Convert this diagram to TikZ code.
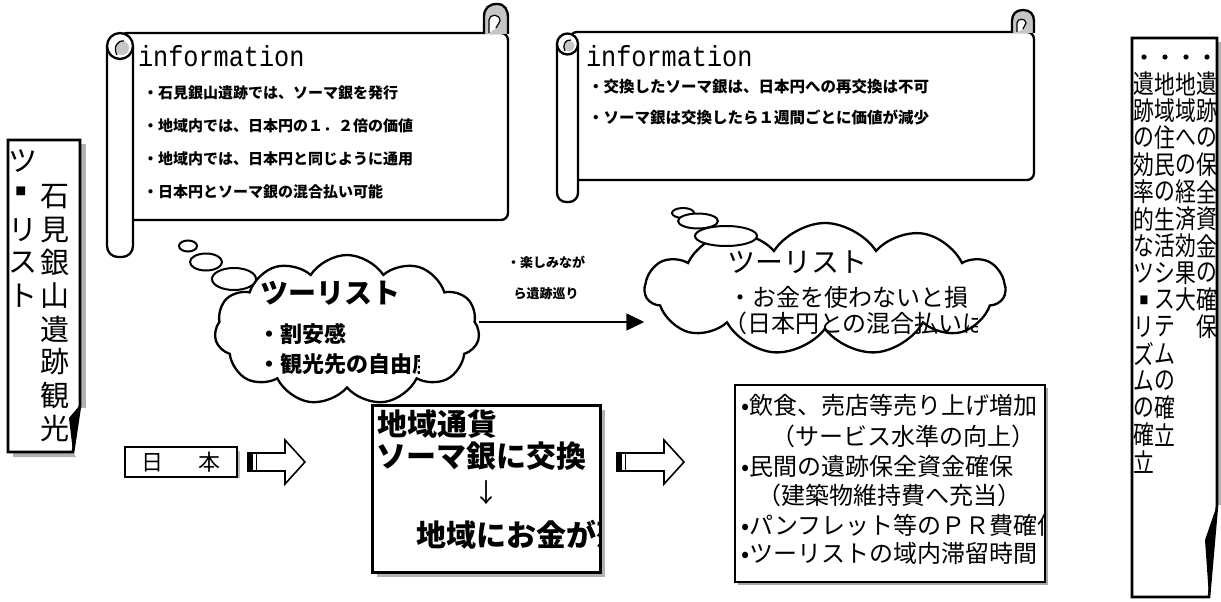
\documentclass[tikz,border=0pt]{standalone}
\usepackage{fontspec}
\usepackage{graphicx}
\newfontfamily\jp{Noto Sans CJK JP}
\newfontfamily\monofnt{Liberation Mono}
\usetikzlibrary{shapes.symbols,arrows.meta,calc}
\newcommand\fsz[1]{\fontsize{#1}{#1}\selectfont}
\newcommand\blockarrowat[3]{%
  \draw[blockarrow] (#1,#2-9) -- (#1+#3-20,#2-9) -- (#1+#3-20,#2-22) -- (#1+#3,#2) -- (#1+#3-20,#2+22) -- (#1+#3-20,#2+9) -- (#1,#2+9) -- cycle;
  \fill (#1,#2-9) rectangle (#1+5,#2+9);
  \draw[line width=1pt] (#1+8,#2-9) -- (#1+8,#2+9);}
\newcommand\narrowch[1]{\scalebox{0.8}[1]{#1}}
\begin{document}
\begin{tikzpicture}[x=1pt,y=-1pt,
  every node/.style={inner sep=0pt,outer sep=0pt},
  heavy/.style={line width=2.3pt},
  rollfill/.style={fill=gray!45},
  shade/.style={fill=gray!60},
  gb/.style={font=\jp\bfseries\fsz{#1},anchor=west},
  gr/.style={font=\jp\fsz{#1},anchor=west},
  vch/.style={font=\jp\fsz{#1}},
  info/.style={font=\monofnt\fsz{29},anchor=west},
  bub/.style={line width=2pt,fill=white},
  thought/.style={cloud,cloud puffs=11,cloud puff arc=115,cloud ignores aspect,draw,line width=2.3pt,fill=white},
  blockarrow/.style={line width=1.6pt,fill=white}]
\useasboundingbox (0,0) rectangle (1221,602);
\fill[white] (0,0) rectangle (1221,602);

% ---------- top-left scroll ----------
\draw[heavy,fill=white,rounded corners=7] (120,33) rectangle (508,220);
\draw[heavy,rollfill] (484,34) -- (484,17) .. controls (484,8) and (489,4) .. (497,4) .. controls (505,4) and (508,10) .. (508,18) -- (508,34);
\draw[line width=1.2pt,fill=white] (489,33) -- (489,20) .. controls (489,14) and (500,13) .. (500,21) -- (496,28);
\draw[heavy,fill=white,rounded corners=11] (107,46) -- (107,257) -- (133,257) -- (133,46);
\draw[heavy,fill=white] (120,46) circle[radius=13];
\fill[rollfill] (122,48) circle[radius=7];
\draw[line width=1.2pt] (117,55) .. controls (113,48) and (117,40) .. (124,41);
\node[info] (infoL) at (138,56) {\scalebox{0.87}[1]{information}};
\node[gb=15] (bl1) at (143,93) {・石見銀山遺跡では、ソーマ銀を発行};
\node[gb=15] (bl2) at (143,126) {・地域内では、日本円の１．２倍の価値};
\node[gb=15] (bl3) at (143,159) {・地域内では、日本円と同じように通用};
\node[gb=15] (bl4) at (143,192) {・日本円とソーマ銀の混合払い可能};

% ---------- top-right scroll ----------
\draw[heavy,fill=white,rounded corners=7] (570,32) rectangle (1034,180);
\draw[heavy,rollfill] (1012,33) -- (1012,21) .. controls (1012,14) and (1016,10) .. (1023,10) .. controls (1030,10) and (1034,14) .. (1034,21) -- (1034,33);
\draw[line width=1.2pt,fill=white] (1017,32) -- (1017,23) .. controls (1017,18) and (1026,18) .. (1026,23) -- (1023,29);
\draw[heavy,fill=white,rounded corners=9] (557,44) -- (557,202) -- (578,202) -- (578,44);
\draw[heavy,fill=white] (567.5,44) circle[radius=10.5];
\fill[rollfill] (569,46) circle[radius=5.5];
\draw[line width=1.2pt] (565,51) .. controls (562,46) and (565,39) .. (571,40);
\node[info] (infoR) at (586,56) {\scalebox{0.87}[1]{information}};
\node[gb=15.5] (br1) at (588,87) {・交換したソーマ銀は、日本円への再交換は不可};
\node[gb=15.5] (br2) at (588,117) {・ソーマ銀は交換したら１週間ごとに価値が減少};

% ---------- left vertical box ----------
\fill[shade] (80,144) rectangle (86,408);
\fill[shade] (13,452) -- (73,452) -- (76,457) -- (13,457) -- cycle;
\draw[line width=2.8pt,fill=white] (8,140) -- (80,140) -- (80,405) -- (73,452) -- (8,452) -- cycle;
\fill (80,405) -- (73,452) -- (69,418) -- cycle;
\foreach \ch [count=\i from 0] in {石,見,銀,山,遺,跡,観,光}
  \node[vch=29] (lbr\i) at (55,197+33*\i) {\ch};
\node[vch=29] (lbl0) at (23,161) {ツ};
\node[vch=11] (lbl1) at (21,191) {■};
\node[vch=29] (lbl2) at (23,230) {リ};
\node[vch=29] (lbl3) at (23,263) {ス};
\node[vch=29] (lbl4) at (23,296) {ト};

% ---------- right vertical box ----------
\fill[shade] (1217,42) rectangle (1221,505);
\draw[line width=2.6pt,fill=white] (1132,38) -- (1217,38) -- (1217,505) -- (1209,597) -- (1132,597) -- cycle;
\fill (1217,505) -- (1209,597) -- (1205,540) -- cycle;
\foreach \cx in {1144,1165,1186,1207} \fill (\cx,57) circle[radius=2.6];
\foreach \ch [count=\i from 0] in {遺,跡,の,保,全,資,金,の,確,保}
  \node[vch=26] (rc1\i) at (1207,84+27*\i) {\narrowch{\ch}};
\foreach \ch [count=\i from 0] in {地,域,へ,の,経,済,効,果,大}
  \node[vch=26] (rc2\i) at (1186,84+27*\i) {\narrowch{\ch}};
\foreach \ch [count=\i from 0] in {地,域,住,民,の,生,活,シ,ス,テ,ム,の,確,立}
  \node[vch=26] (rc3\i) at (1165,84+27*\i) {\narrowch{\ch}};
\foreach \ch [count=\i from 0] in {遺,跡,の,効,率,的,な,ツ,{\fsz{11}■},リ,ズ,ム,の,確,立}
  \node[vch=26] (rc4\i) at (1144,84+27*\i) {\narrowch{\ch}};

% ---------- clouds ----------
\node[thought,minimum width=265pt,minimum height=150pt] (lc) at (347,330) {};
\draw[bub] (188,246) ellipse[x radius=9,y radius=5.5];
\draw[bub] (206,262) ellipse[x radius=16,y radius=8.5];
\draw[bub] (234,279) ellipse[x radius=22,y radius=11];
\node[gb=28,anchor=center] (lct) at (330,293) {ツーリスト};
\node[gb=22] (lc1) at (258,334) {・割安感};
\begin{scope}
  \clip (250,340) rectangle (419,390);
  \node[gb=22] (lc2) at (258,364) {・観光先の自由度};
\end{scope}

\node[thought,minimum width=360pt,minimum height=132pt] (rc) at (825,289) {};
\draw[bub] (683,213) ellipse[x radius=11,y radius=5];
\draw[bub] (698,221) ellipse[x radius=20,y radius=7.5];
\draw[bub] (726,236) ellipse[x radius=31,y radius=10];
\node[gr=28,anchor=center] (rct) at (797,262) {ツーリスト};
\node[gr=24] (rc1) at (728,297) {・お金を使わないと損};
\begin{scope}
  \clip (715,305) rectangle (977,345);
  \node[gr=24] (rc2) at (723,323) {（日本円との混合払いは};
\end{scope}

\draw[line width=1.6pt,-{Triangle[length=18pt,width=17pt]}] ([yshift=8pt]lc.east) -- ([yshift=8pt]lc.east -| rc.west);
\node[gb=13,anchor=center] (lab1) at (546,262) {・楽しみなが};
\node[gb=13,anchor=center] (lab2) at (546,294) {ら遺跡巡り};

% ---------- bottom row ----------
\fill[gray!55] (128,451) rectangle (240,478);
\node[draw,line width=1.8pt,fill=white,minimum width=112pt,minimum height=30pt,font=\jp\fsz{22}] (nihon) at (181,462) {日\hspace{36pt}本};
\blockarrowat{248}{462}{57}

\fill[shade] (377,410) rectangle (605,577);
\node[draw,line width=3pt,fill=white,minimum width=228pt,minimum height=167pt] (mid) at (486,488.5) {};
\node[gb=30] (m1) at (377,424) {地域通貨};
\node[gb=30] (m2) at (376,456) {ソーマ銀に交換};
\node[font=\jp\fsz{26}] (m3) at (486,493) {↓};
\begin{scope}
  \clip (372,505) rectangle (598,565);
  \node[gb=30] (m4) at (416,535) {地域にお金が落};
\end{scope}

\blockarrowat{617}{462}{67}

\fill[gray!70] (738,388) rectangle (1048,585);
\node[draw,line width=1.6pt,fill=white,minimum width=310pt,minimum height=197pt] (lst) at (890,483.5) {};
\begin{scope}
  \clip (736,386) rectangle (1043,581);
  \node[gr=24] (r1) at (741,405) {•飲食、売店等売り上げ増加};
  \node[gr=24] (r2) at (771,436) {（サービス水準の向上）};
  \node[gr=24] (r3) at (741,466) {•民間の遺跡保全資金確保};
  \node[gr=24] (r4) at (757,495) {（建築物維持費へ充当）};
  \node[gr=24] (r5) at (741,525) {•パンフレット等のＰＲ費確保};
  \node[gr=24] (r6) at (741,554) {•ツーリストの域内滞留時間};
\end{scope}
\end{tikzpicture}
\end{document}
